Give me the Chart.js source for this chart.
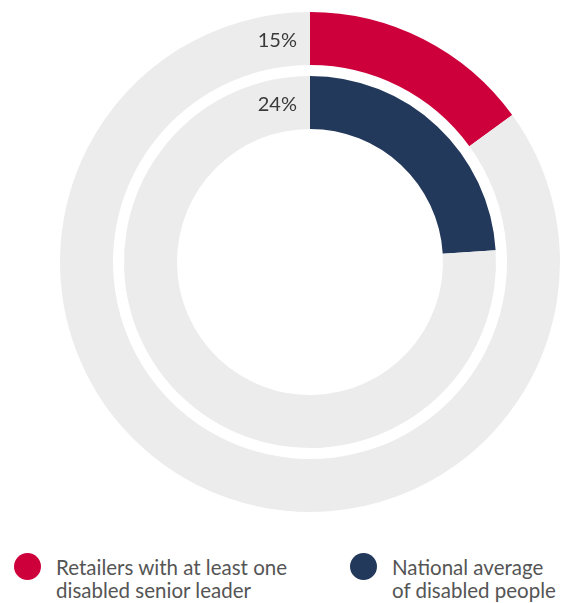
<!DOCTYPE html>
<html>
<head>
<meta charset="utf-8">
<script src="https://cdn.jsdelivr.net/npm/chart.js@4.4.0/dist/chart.umd.min.js"></script>
<style>
    body { margin: 0; background: #fff; }
    #wrap { position: relative; width: 580px; height: 603px; overflow: hidden; }
    #ring-canvas { position: absolute; left: 0; top: 0; }
    .legend-item { position: absolute; font-family: Lato, "Noto Sans", sans-serif; font-size: 20.5px; line-height: 23px; color: #555; white-space: nowrap; }
    .legend-dot { position: absolute; width: 27px; height: 27px; border-radius: 50%; }
</style>
</head>
<body>
<div id="wrap">
    <canvas id="ring-canvas" width="580" height="524"></canvas>
    <div class="legend-dot" id="dot-0" style="left:14px; top:553px;"></div>
    <div class="legend-item" id="leg-0" style="left:56px; top:556px;"></div>
    <div class="legend-dot" id="dot-1" style="left:350px; top:553px;"></div>
    <div class="legend-item" id="leg-1" style="left:392px; top:556px;"></div>
</div>
<script>
/* ================= DATA ================= */
const seriesNames = [
    ["Retailers with at least one", "disabled senior leader"],
    ["National average", "of disabled people"]
];
const seriesShare = [15, 24];          // percent, outer ring first
const seriesColors = ["#CE003C", "#23395C"];
const restColor = "#ECECEC";

/* ================= LEGEND ================= */
seriesNames.forEach((lines, i) => {
    document.getElementById("dot-" + i).style.background = seriesColors[i];
    document.getElementById("leg-" + i).innerHTML = lines.join("<br>");
});

/* ================= RING LABELS ================= */
// writes each ring's share just left of 12 o'clock, centred in the ring
const ringLabels = {
    id: "ringLabels",
    afterDatasetsDraw(chart) {
        const ctx = chart.ctx;
        ctx.save();
        ctx.font = "20px Lato, 'Noto Sans', sans-serif";
        ctx.fillStyle = "#3a3a3a";
        ctx.textAlign = "right";
        ctx.textBaseline = "middle";
        chart.data.datasets.forEach((ds, i) => {
            if (ds.isGap) return;
            const arc = chart.getDatasetMeta(i).data[0];
            const mid = (arc.innerRadius + arc.outerRadius) / 2;
            ctx.fillText(ds.label, arc.x - 13, arc.y - mid + 2);
        });
        ctx.restore();
    }
};

const ring = (share, color) => ({
    label: share + "%",
    data: [share, 100 - share],
    backgroundColor: [color, restColor],
    borderWidth: 0,
    weight: 53
});

new Chart(document.getElementById("ring-canvas"), {
    type: "doughnut",
    data: {
        labels: ["share", "rest"],
        datasets: [
            ring(seriesShare[0], seriesColors[0]),
            // white space between the two rings
            { isGap: true, data: [1], backgroundColor: ["rgba(0,0,0,0)"], borderWidth: 0, weight: 11 },
            ring(seriesShare[1], seriesColors[1])
        ]
    },
    options: {
        responsive: false,
        animation: false,
        cutout: 133,
        layout: { padding: { left: 40, right: 0, top: 12, bottom: 12 } },
        plugins: {
            legend: { display: false },
            tooltip: { enabled: false }
        }
    },
    plugins: [ringLabels]
});
</script>
</body>
</html>
